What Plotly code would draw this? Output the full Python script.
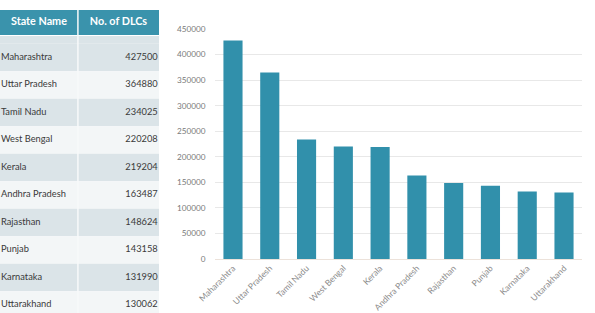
import plotly.graph_objects as go

states = ["Maharashtra", "Uttar Pradesh", "Tamil Nadu", "West Bengal", "Kerala",
          "Andhra Pradesh", "Rajasthan", "Punjab", "Karnataka", "Uttarakhand"]
dlcs = [427500, 364880, 234025, 220208, 219204, 163487, 148624, 143158, 131990, 130062]
header_labels = ["State Name", "No. of DLCs"]
y_ticks = [0, 50000, 100000, 150000, 200000, 250000, 300000, 350000, 400000, 450000]

W, H = 595, 313
PITCH = 27.5          # px per table row
ROW0_CENTER = 57.5    # px from top of first row centre
HEADER_TOP, HEADER_BOTTOM = 10, 35
TABLE_RIGHT = 159

rows = list(range(len(states)))
def px_to_row(px):
    return (px - ROW0_CENTER) / PITCH

y2_range = [px_to_row(H), px_to_row(0)]

fig = go.Figure()

# --- chart ---
fig.add_trace(go.Bar(
    x=states, y=dlcs, marker=dict(color="#3190ab", line=dict(width=0)),
    xaxis="x", yaxis="y", showlegend=False, hoverinfo="x+y",
))

# --- table text ---
fig.add_trace(go.Scatter(
    x=[0.006] * len(states), y=rows, mode="text", text=states,
    textposition="middle right", textfont=dict(family="Lato", size=9.3, color="#3a3a3a"),
    xaxis="x2", yaxis="y2", showlegend=False, hoverinfo="skip",
))
fig.add_trace(go.Scatter(
    x=[0.992] * len(dlcs), y=rows, mode="text", text=[str(v) for v in dlcs],
    textposition="middle left", textfont=dict(family="Lato", size=9.3, color="#3a3a3a"),
    xaxis="x2", yaxis="y2", showlegend=False, hoverinfo="skip",
))
hdr_row = px_to_row((HEADER_TOP + HEADER_BOTTOM) / 2)
fig.add_trace(go.Scatter(
    x=[0.245, 0.745], y=[hdr_row, hdr_row], mode="text",
    text=[f"<b>{h}</b>" for h in header_labels],
    textposition="middle center", textfont=dict(family="Lato", size=10.8, color="white"),
    xaxis="x2", yaxis="y2", showlegend=False, hoverinfo="skip",
))

shapes = []
shapes.append(dict(type="rect", xref="x2 domain", yref="y2", x0=0, x1=1,
                   y0=px_to_row(HEADER_TOP), y1=px_to_row(HEADER_BOTTOM),
                   fillcolor="#3a93ac", line=dict(width=0), layer="below"))
shapes.append(dict(type="rect", xref="x2 domain", yref="y2", x0=0, x1=1,
                   y0=px_to_row(HEADER_BOTTOM + 1), y1=-0.5,
                   fillcolor="#dbe4e8", line=dict(width=0), layer="below"))
for i in rows:
    shapes.append(dict(type="rect", xref="x2 domain", yref="y2", x0=0, x1=1,
                       y0=i - 0.5, y1=i + 0.5,
                       fillcolor="#dbe4e8" if i % 2 == 0 else "#f3f6f7",
                       line=dict(width=0), layer="below"))
shapes.append(dict(type="line", xref="x2 domain", yref="y2", x0=0.49, x1=0.49,
                   y0=px_to_row(HEADER_TOP), y1=px_to_row(H),
                   line=dict(color="#f7f9fa", width=1.5)))

fig.update_layout(
    width=W, height=H, margin=dict(l=0, r=0, t=0, b=0),
    paper_bgcolor="white", plot_bgcolor="white",
    font=dict(family="Lato", color="#666666"),
    bargap=0.48, shapes=shapes,
    xaxis=dict(domain=[214.6 / W, 582.4 / W], tickangle=-45,
               tickfont=dict(size=8.5, color="#8a8a8a"),
               showline=True, linecolor="#ece2da", linewidth=1,
               showgrid=False, ticks="", anchor="y", automargin=False),
    yaxis=dict(domain=[1 - 259 / H, 1 - 29 / H], range=[0, 450000],
               tickvals=y_ticks, ticktext=[str(v) for v in y_ticks],
               tickfont=dict(size=8.2, color="#7a7a7a"),
               showgrid=True, gridcolor="#e8e8e8", gridwidth=1,
               zeroline=False, showline=False, ticks="", ticklabelstandoff=8,
               anchor="x", automargin=False),
    xaxis2=dict(domain=[0, TABLE_RIGHT / W], range=[0, 1], visible=False,
                anchor="y2", fixedrange=True),
    yaxis2=dict(domain=[0, 1], range=y2_range, visible=False,
                anchor="x2", fixedrange=True),
)

fig.write_html("out.html")
